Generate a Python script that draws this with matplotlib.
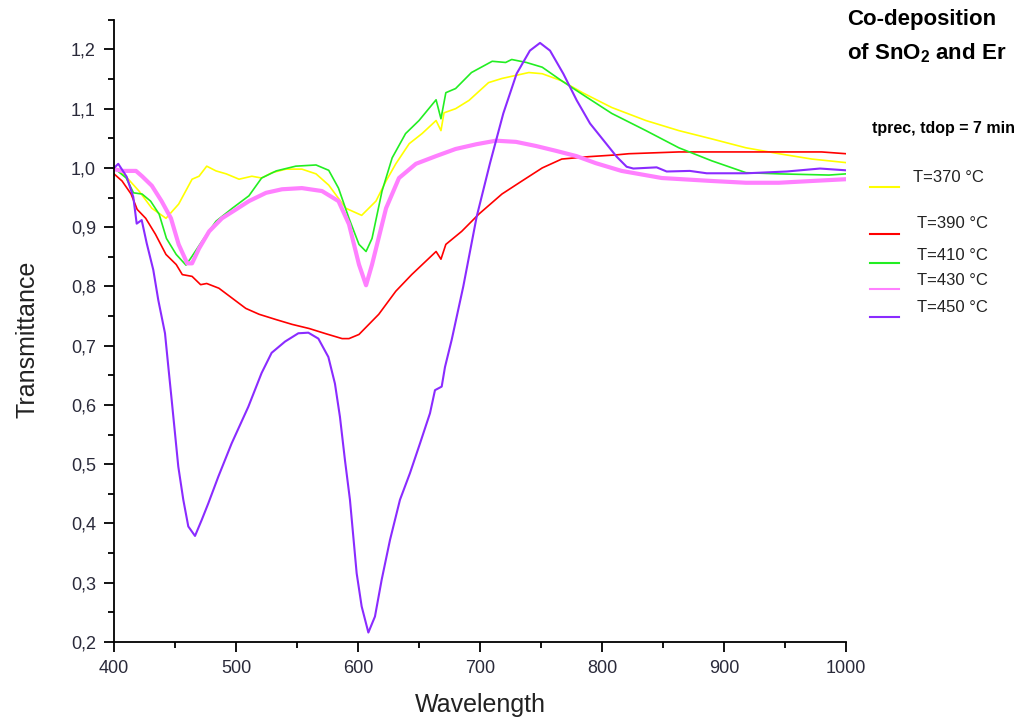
import matplotlib
matplotlib.use("Agg")
import numpy as np
import matplotlib.pyplot as plt
from matplotlib.lines import Line2D
from matplotlib.ticker import MultipleLocator, FuncFormatter

plt.rcParams['font.family'] = ['Liberation Sans', 'DejaVu Sans']
plt.rcParams['mathtext.fontset'] = 'custom'
plt.rcParams['mathtext.rm'] = 'Liberation Sans:bold'

# --- Transmittance spectra, one per deposition temperature ---
wl_370 = [400, 410, 420.5, 431, 442.6, 453, 464, 469.7, 476, 483.6, 492, 502.5, 513, 521,
          529.5, 541, 554, 565.6, 576, 590, 603, 614.7, 623, 631, 642, 652.5, 664, 668,
          670.5, 680, 691, 707, 718, 729, 740, 751, 767, 784, 808, 836, 863, 890, 918,
          945, 972, 1000]
tr_370 = [1.0, 0.985, 0.961, 0.932, 0.915, 0.939, 0.981, 0.986, 1.003, 0.995, 0.99, 0.981,
          0.986, 0.983, 0.992, 0.998, 0.998, 0.99, 0.971, 0.932, 0.92, 0.944, 0.978, 1.007,
          1.041, 1.058, 1.08, 1.063, 1.093, 1.1, 1.114, 1.144, 1.151, 1.156, 1.161, 1.159,
          1.147, 1.127, 1.102, 1.08, 1.063, 1.049, 1.034, 1.024, 1.015, 1.009]

wl_390 = [400, 406.6, 414, 419, 426, 434, 442.6, 451, 456, 464, 471, 476, 486, 497, 508,
          519, 533, 546, 560, 574, 587, 592.6, 600.8, 617, 631, 644, 664, 668, 672, 685,
          699, 718, 734.4, 751, 767, 789, 811.5, 822, 863, 918, 980, 1000]
tr_390 = [0.99, 0.978, 0.956, 0.93, 0.915, 0.888, 0.854, 0.837, 0.82, 0.817, 0.803, 0.805,
          0.797, 0.78, 0.763, 0.753, 0.744, 0.736, 0.729, 0.72, 0.712, 0.712, 0.719, 0.753,
          0.792, 0.82, 0.859, 0.846, 0.871, 0.893, 0.922, 0.956, 0.978, 1.0, 1.015, 1.019,
          1.022, 1.024, 1.027, 1.027, 1.027, 1.024]

wl_410 = [400, 410, 416, 423, 430, 437, 443, 451, 459, 464, 472, 483.6, 497, 510.6, 521,
          533, 549, 565.6, 576, 584, 592.6, 600.8, 606.6, 611.5, 619.7, 628, 639, 650, 664,
          668, 672, 680, 693, 710, 721, 726, 738, 751, 767, 787, 808, 836, 863, 890, 918,
          945, 986, 1000]
tr_410 = [1.0, 0.983, 0.958, 0.956, 0.944, 0.922, 0.881, 0.854, 0.836, 0.851, 0.876, 0.91,
          0.932, 0.953, 0.983, 0.995, 1.003, 1.005, 0.996, 0.966, 0.915, 0.871, 0.859, 0.881,
          0.961, 1.017, 1.058, 1.08, 1.115, 1.083, 1.127, 1.134, 1.161, 1.18, 1.178, 1.183,
          1.178, 1.17, 1.147, 1.12, 1.092, 1.063, 1.034, 1.012, 0.992, 0.99, 0.988, 0.99]

wl_430 = [400, 406.6, 418, 423, 431, 439, 446.7, 453, 460, 464, 469.7, 478, 488.5, 500,
          510.6, 524.6, 537.7, 554, 570.5, 584, 592.6, 600.8, 606.6, 611.5, 623, 633.6,
          647.5, 664, 680, 697, 713, 729.5, 746, 762, 779, 795, 816, 849, 890, 918, 945,
          972, 1000]
tr_430 = [0.998, 0.995, 0.995, 0.986, 0.97, 0.944, 0.915, 0.871, 0.839, 0.839, 0.864, 0.893,
          0.915, 0.93, 0.944, 0.958, 0.964, 0.966, 0.961, 0.944, 0.905, 0.837, 0.802, 0.837,
          0.932, 0.983, 1.007, 1.02, 1.032, 1.04, 1.046, 1.044, 1.037, 1.029, 1.02, 1.008,
          0.995, 0.983, 0.978, 0.975, 0.975, 0.978, 0.981]

wl_450 = [400, 403.5, 410.4, 415.8, 418.6, 422.7, 426.8, 432.2, 436.3, 441.8, 444.5, 447.3,
          450, 452.7, 456.8, 460.9, 466.4, 471.9, 477.3, 485.5, 496.4, 510.1, 521, 529.2,
          540.2, 551.1, 559.3, 567.5, 575.7, 581.1, 585.2, 589.3, 593.4, 598.9, 603, 608.5,
          613.9, 619.4, 626.2, 634.4, 642.6, 650.8, 659, 663.1, 668.6, 671.3, 676.8, 686.3,
          697.3, 708.2, 719.1, 730, 740.9, 749.2, 757.4, 768.3, 779.3, 790.2, 801.1, 812,
          820.2, 825.7, 844.8, 853, 872, 885.8, 918.6, 951.4, 978.7, 1000]
tr_450 = [1.0, 1.007, 0.985, 0.951, 0.906, 0.912, 0.873, 0.828, 0.777, 0.721, 0.665, 0.608,
          0.552, 0.496, 0.44, 0.395, 0.379, 0.406, 0.434, 0.479, 0.535, 0.597, 0.654, 0.688,
          0.707, 0.721, 0.722, 0.712, 0.681, 0.636, 0.58, 0.507, 0.44, 0.316, 0.26, 0.216,
          0.243, 0.305, 0.372, 0.44, 0.485, 0.535, 0.586, 0.625, 0.631, 0.664, 0.71, 0.8,
          0.918, 1.008, 1.092, 1.159, 1.198, 1.211, 1.198, 1.159, 1.114, 1.075, 1.047, 1.019,
          1.002, 0.999, 1.001, 0.994, 0.995, 0.991, 0.991, 0.994, 0.999, 0.996]

labels = ['T=370 °C', 'T=390 °C', 'T=410 °C', 'T=430 °C', 'T=450 °C']
colors = ['#FFFF00', '#FF0000', '#22EE22', '#FF80FF', '#8A2BFF']
widths = [1.2, 1.2, 1.2, 3.0, 1.5]

W, H = 1030, 722
fig = plt.figure(figsize=(W / 100, H / 100), dpi=100)
ax = fig.add_axes([114 / W, 1 - 642 / H, 732 / W, 622.2 / H])

series = [(wl_370, tr_370), (wl_390, tr_390), (wl_410, tr_410), (wl_430, tr_430), (wl_450, tr_450)]
for (x, y), c, lw in zip(series, colors, widths):
    ax.plot(x, y, color=c, lw=lw)

ax.set_xlim(400, 1000)
ax.set_ylim(0.2, 1.25)
ax.xaxis.set_major_locator(MultipleLocator(100))
ax.xaxis.set_minor_locator(MultipleLocator(50))
ax.yaxis.set_major_locator(MultipleLocator(0.1))
ax.yaxis.set_minor_locator(MultipleLocator(0.05))
ax.yaxis.set_major_formatter(FuncFormatter(lambda v, p: f"{v:.1f}".replace('.', ',')))
ax.set_yticks(np.arange(0.2, 1.21, 0.1))

for s in ['top', 'right']:
    ax.spines[s].set_visible(False)
for s in ['left', 'bottom']:
    ax.spines[s].set_linewidth(1.3)
ax.tick_params(which='major', direction='out', length=7, width=1.3, pad=6,
               labelsize=13, labelcolor='#2a2a3a')
ax.tick_params(which='minor', direction='out', length=4, width=1.3)

ax.set_xlabel('Wavelength', fontsize=18, color='#222222')
ax.set_ylabel('Transmittance', fontsize=18, color='#222222')
ax.xaxis.set_label_coords(0.5, -(705 - 642) / 622.2)
ax.xaxis.label.set_va('center')
ax.yaxis.set_label_coords(-(114 - 28) / 732, (642 - 339) / 622.2)
ax.yaxis.label.set_va('center')

# title block in the upper right corner
fig.text(847 / W, 1 - 20 / H, 'Co-deposition', fontsize=16, fontweight='bold', va='center')
fig.text(847 / W, 1 - 53 / H, r'of SnO$_{2}$ and Er', fontsize=16, fontweight='bold', va='center')

# hand-placed legend
fig.text(872 / W, 1 - 129 / H, 'tprec, tdop = 7 min', fontsize=11.5, fontweight='bold', va='center')
text_y = [178, 224, 255, 281, 308]
line_y = [187, 234, 263, 289, 317]
text_x = [913, 917, 917, 917, 917]
for lab, c, ty, ly, tx in zip(labels, colors, text_y, line_y, text_x):
    fig.add_artist(Line2D([870 / W, 899 / W], [1 - ly / H, 1 - ly / H], color=c, lw=1.5))
    fig.text(tx / W, 1 - ty / H, lab, fontsize=12, va='center', color='#222222')

fig.savefig('out.png', dpi=100)
